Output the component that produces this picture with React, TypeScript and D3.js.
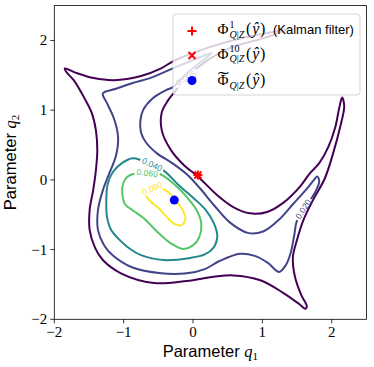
import * as d3 from "d3";

const xTicks = [-2, -1, 0, 1, 2];
const yTicks = [-2, -1, 0, 1, 2];
const levels = [0.005, 0.02, 0.04, 0.06, 0.08];
const levelText = ["0.005", "0.020", "0.040", "0.060", "0.080"];

// contour lines, (q1, q2)
const c005: [number, number][] = [
  [-1.85, 1.6], [-1.67, 1.53], [-1.43, 1.46], [-1.14, 1.43], [-0.75, 1.49], [-0.46, 1.6],
  [-0.29, 1.7], [0.0, 1.82], [0.53, 1.99], [1.04, 2.1], [1.37, 2.16], [1.04, 2.04],
  [0.53, 1.89], [0.17, 1.69], [-0.07, 1.49], [-0.26, 1.27], [-0.36, 1.14], [-0.45, 0.97],
  [-0.45, 0.71], [-0.32, 0.43], [-0.13, 0.21], [0.07, 0.05], [0.35, -0.22], [0.58, -0.39],
  [0.82, -0.48], [1.07, -0.46], [1.3, -0.33], [1.54, -0.1], [1.69, 0.1], [1.82, 0.24],
  [1.95, 0.47], [2.05, 0.75], [2.11, 1.04], [2.15, 1.18], [2.18, 1.06], [2.12, 0.75],
  [2.02, 0.38], [1.9, 0.02], [1.73, -0.29], [1.59, -0.58], [1.5, -0.86], [1.44, -1.11],
  [1.47, -1.39], [1.56, -1.65], [1.64, -1.81], [1.62, -1.85], [1.53, -1.78], [1.3, -1.62],
  [0.97, -1.44], [0.58, -1.37], [0.3, -1.39], [-0.09, -1.45], [-0.56, -1.48], [-1.04, -1.34],
  [-1.3, -1.15], [-1.41, -0.98], [-1.49, -0.72], [-1.49, -0.43], [-1.44, -0.15], [-1.4, 0.14],
  [-1.38, 0.43], [-1.4, 0.71], [-1.46, 0.96], [-1.57, 1.18], [-1.72, 1.43], [-1.82, 1.54],
];
const c020: [number, number][] = [
  [-1.3, 1.24], [-1.1, 1.31], [-0.87, 1.39], [-0.62, 1.46], [-0.29, 1.6], [0.03, 1.73],
  [0.27, 1.82], [0.07, 1.66], [-0.13, 1.49], [-0.29, 1.33], [-0.38, 1.29], [-0.58, 1.17],
  [-0.72, 1.0], [-0.76, 0.84], [-0.75, 0.68], [-0.68, 0.54], [-0.52, 0.38], [-0.3, 0.24],
  [-0.09, 0.08], [0.1, -0.12], [0.3, -0.36], [0.53, -0.61], [0.79, -0.76], [1.01, -0.74],
  [1.25, -0.56], [1.44, -0.35], [1.64, -0.13], [1.76, 0.02], [1.79, 0.05], [1.82, -0.02],
  [1.76, -0.18], [1.64, -0.36], [1.5, -0.58], [1.46, -0.79], [1.41, -1.04], [1.34, -1.22],
  [1.24, -1.32], [1.08, -1.19], [0.89, -1.09], [0.68, -1.06], [0.39, -1.16], [0.17, -1.28],
  [-0.09, -1.34], [-0.46, -1.34], [-0.89, -1.25], [-1.15, -1.09], [-1.28, -0.94], [-1.37, -0.72],
  [-1.37, -0.43], [-1.3, -0.15], [-1.2, 0.11], [-1.11, 0.35], [-1.08, 0.61], [-1.14, 0.88],
  [-1.24, 1.1],
];
const c040: [number, number][] = [
  [-0.43, 0.14], [-0.19, -0.09], [0.03, -0.28], [0.19, -0.44], [0.3, -0.62], [0.35, -0.81],
  [0.29, -0.98], [0.17, -1.07], [-0.04, -1.12], [-0.42, -1.15], [-0.75, -1.08], [-0.95, -0.96],
  [-1.08, -0.84], [-1.18, -0.72], [-1.24, -0.53], [-1.25, -0.29], [-1.23, -0.06], [-1.15, 0.12],
  [-1.01, 0.25], [-0.87, 0.31], [-0.74, 0.28], [-0.59, 0.22],
];
const c060: [number, number][] = [
  [-0.47, 0.08], [-0.23, -0.1], [-0.07, -0.27], [0.06, -0.45], [0.12, -0.63], [0.09, -0.82],
  [0.0, -0.94], [-0.14, -0.99], [-0.32, -0.91], [-0.52, -0.74], [-0.71, -0.55], [-0.85, -0.45],
  [-0.98, -0.35], [-1.02, -0.19], [-1.01, -0.06], [-0.95, 0.04], [-0.87, 0.08], [-0.67, 0.1],
];
const c080: [number, number][] = [
  [-0.43, -0.13], [-0.33, -0.2], [-0.23, -0.32], [-0.15, -0.43], [-0.11, -0.56], [-0.17, -0.65],
  [-0.27, -0.63], [-0.39, -0.52], [-0.5, -0.4], [-0.61, -0.31], [-0.68, -0.22], [-0.66, -0.14],
  [-0.55, -0.1],
];

// where the inline level labels sit: q1, q2, text angle
const labelSpots: [number, number, number][] = [
  [-0.1, 1.46, -30],
  [1.59, -0.42, -57],
  [-0.59, 0.22, 25],
  [-0.66, 0.1, 8],
  [-0.59, -0.12, -23],
];

const kalmanEst: [number, number] = [0.07, 0.07];
const phi10Est: [number, number] = [0.07, 0.07];
const phiTildeEst: [number, number] = [-0.27, -0.29];

const W = 374, H = 367;
const left = 54.3, right = 366.4, top = 5.6, bottom = 319.3;
const serif = "'Liberation Serif', 'Times New Roman', serif";
const sans = "'Liberation Sans', Arial, sans-serif";

const Plus = ({ cx, cy }: { cx: number; cy: number }) => (
  <path d={`M${cx - 4.5},${cy}H${cx + 4.5}M${cx},${cy - 4.5}V${cy + 4.5}`} stroke="red" strokeWidth={2} />
);
const Cross = ({ cx, cy }: { cx: number; cy: number }) => (
  <path d={`M${cx - 3.5},${cy - 3.5}L${cx + 3.5},${cy + 3.5}M${cx - 3.5},${cy + 3.5}L${cx + 3.5},${cy - 3.5}`} stroke="red" strokeWidth={2} />
);

const PhiEntry = ({ yb, sup, tilde }: { yb: number; sup?: string; tilde?: boolean }) => (
  <g fontFamily={serif} fill="#000">
    <text x={217.5} y={yb} fontSize={15}>Φ</text>
    {tilde && (
      <text x={217.8} y={yb - 0.5} fontSize={18} textLength={11} lengthAdjust="spacingAndGlyphs">˜</text>
    )}
    {sup && <text x={229.5} y={yb - 6.5} fontSize={10}>{sup}</text>}
    <text x={229.5} y={yb + 3.5} fontSize={10}>
      <tspan fontStyle="italic">Q</tspan>|<tspan fontStyle="italic">Z</tspan>
    </text>
    <text x={246} y={yb} fontSize={16} letterSpacing={0.8}>
      (<tspan fontStyle="italic">ŷ</tspan>)
    </text>
  </g>
);

export default function App() {
  const x = d3.scaleLinear().domain([-2, 2.5]).range([left, right]);
  const y = d3.scaleLinear().domain([-2, 2.5]).range([bottom, top]);
  const color = d3.scaleSequential(d3.interpolateViridis).domain([levels[0], levels[levels.length - 1]]);
  const line = d3
    .line<[number, number]>()
    .x((d) => x(d[0]))
    .y((d) => y(d[1]))
    .curve(d3.curveCatmullRomClosed.alpha(0.5));
  const contours = [c005, c020, c040, c060, c080];

  return (
    <svg width={W} height={H} style={{ position: "absolute", left: 0, top: 0 }}>
      <defs>
        <clipPath id="plotArea">
          <rect x={left} y={top} width={right - left} height={bottom - top} />
        </clipPath>
        {labelSpots.map(([lx, ly, ang], i) => (
          <mask id={`gap${i}`} key={i} maskUnits="userSpaceOnUse" x={0} y={0} width={W} height={H}>
            <rect x={0} y={0} width={W} height={H} fill="white" />
            <rect x={-12.5} y={-4.5} width={25} height={9} fill="black" transform={`translate(${x(lx)},${y(ly)}) rotate(${ang})`} />
          </mask>
        ))}
      </defs>
      <rect width={W} height={H} fill="white" />

      <g clipPath="url(#plotArea)">
        {contours.map((pts, i) => (
          <path key={i} d={line(pts) ?? ""} fill="none" stroke={color(levels[i])} strokeWidth={2} mask={`url(#gap${i})`} />
        ))}
        {labelSpots.map(([lx, ly, ang], i) => (
          <text
            key={i}
            transform={`translate(${x(lx)},${y(ly)}) rotate(${ang})`}
            textAnchor="middle"
            dominantBaseline="central"
            fontFamily={sans}
            fontSize={8.5}
            fill={color(levels[i])}
          >
            {levelText[i]}
          </text>
        ))}
        <Plus cx={x(kalmanEst[0])} cy={y(kalmanEst[1])} />
        <Cross cx={x(phi10Est[0])} cy={y(phi10Est[1])} />
        <circle cx={x(phiTildeEst[0])} cy={y(phiTildeEst[1])} r={4.5} fill="blue" />
      </g>

      {/* legend */}
      <rect x={173} y={14} width={187} height={81} rx={3} fill="white" fillOpacity={0.8} stroke="#cccccc" strokeOpacity={0.8} strokeWidth={1} />
      <Plus cx={192} cy={31} />
      <Cross cx={192} cy={55.5} />
      <circle cx={192} cy={80.5} r={4.5} fill="blue" />
      <PhiEntry yb={34} sup="1" />
      <text x={273} y={34} fontFamily={sans} fontSize={13}>(Kalman filter)</text>
      <PhiEntry yb={58.5} sup="10" />
      <PhiEntry yb={85} tilde />

      {/* axes */}
      <rect x={left} y={top} width={right - left} height={bottom - top} fill="none" stroke="#000" strokeWidth={0.8} />
      {xTicks.map((t) => (
        <g key={t}>
          <line x1={x(t)} x2={x(t)} y1={bottom} y2={bottom + 4} stroke="#000" strokeWidth={0.8} />
          <text x={x(t)} y={bottom + 18} textAnchor="middle" fontFamily={serif} fontSize={15}>
            {t < 0 ? `−${-t}` : t}
          </text>
        </g>
      ))}
      {yTicks.map((t) => (
        <g key={t}>
          <line x1={left - 4} x2={left} y1={y(t)} y2={y(t)} stroke="#000" strokeWidth={0.8} />
          <text x={left - 7} y={y(t) + 5} textAnchor="end" fontFamily={serif} fontSize={15}>
            {t < 0 ? `−${-t}` : t}
          </text>
        </g>
      ))}
      <text x={(left + right) / 2} y={357} textAnchor="middle" fontFamily={sans} fontSize={16.5}>
        Parameter <tspan fontFamily={serif} fontStyle="italic">q</tspan>
        <tspan fontFamily={serif} fontSize={11} dy={3}>1</tspan>
      </text>
      <text transform={`translate(15.5,${(top + bottom) / 2}) rotate(-90)`} textAnchor="middle" fontFamily={sans} fontSize={16.5}>
        Parameter <tspan fontFamily={serif} fontStyle="italic">q</tspan>
        <tspan fontFamily={serif} fontSize={11} dy={3}>2</tspan>
      </text>
    </svg>
  );
}
